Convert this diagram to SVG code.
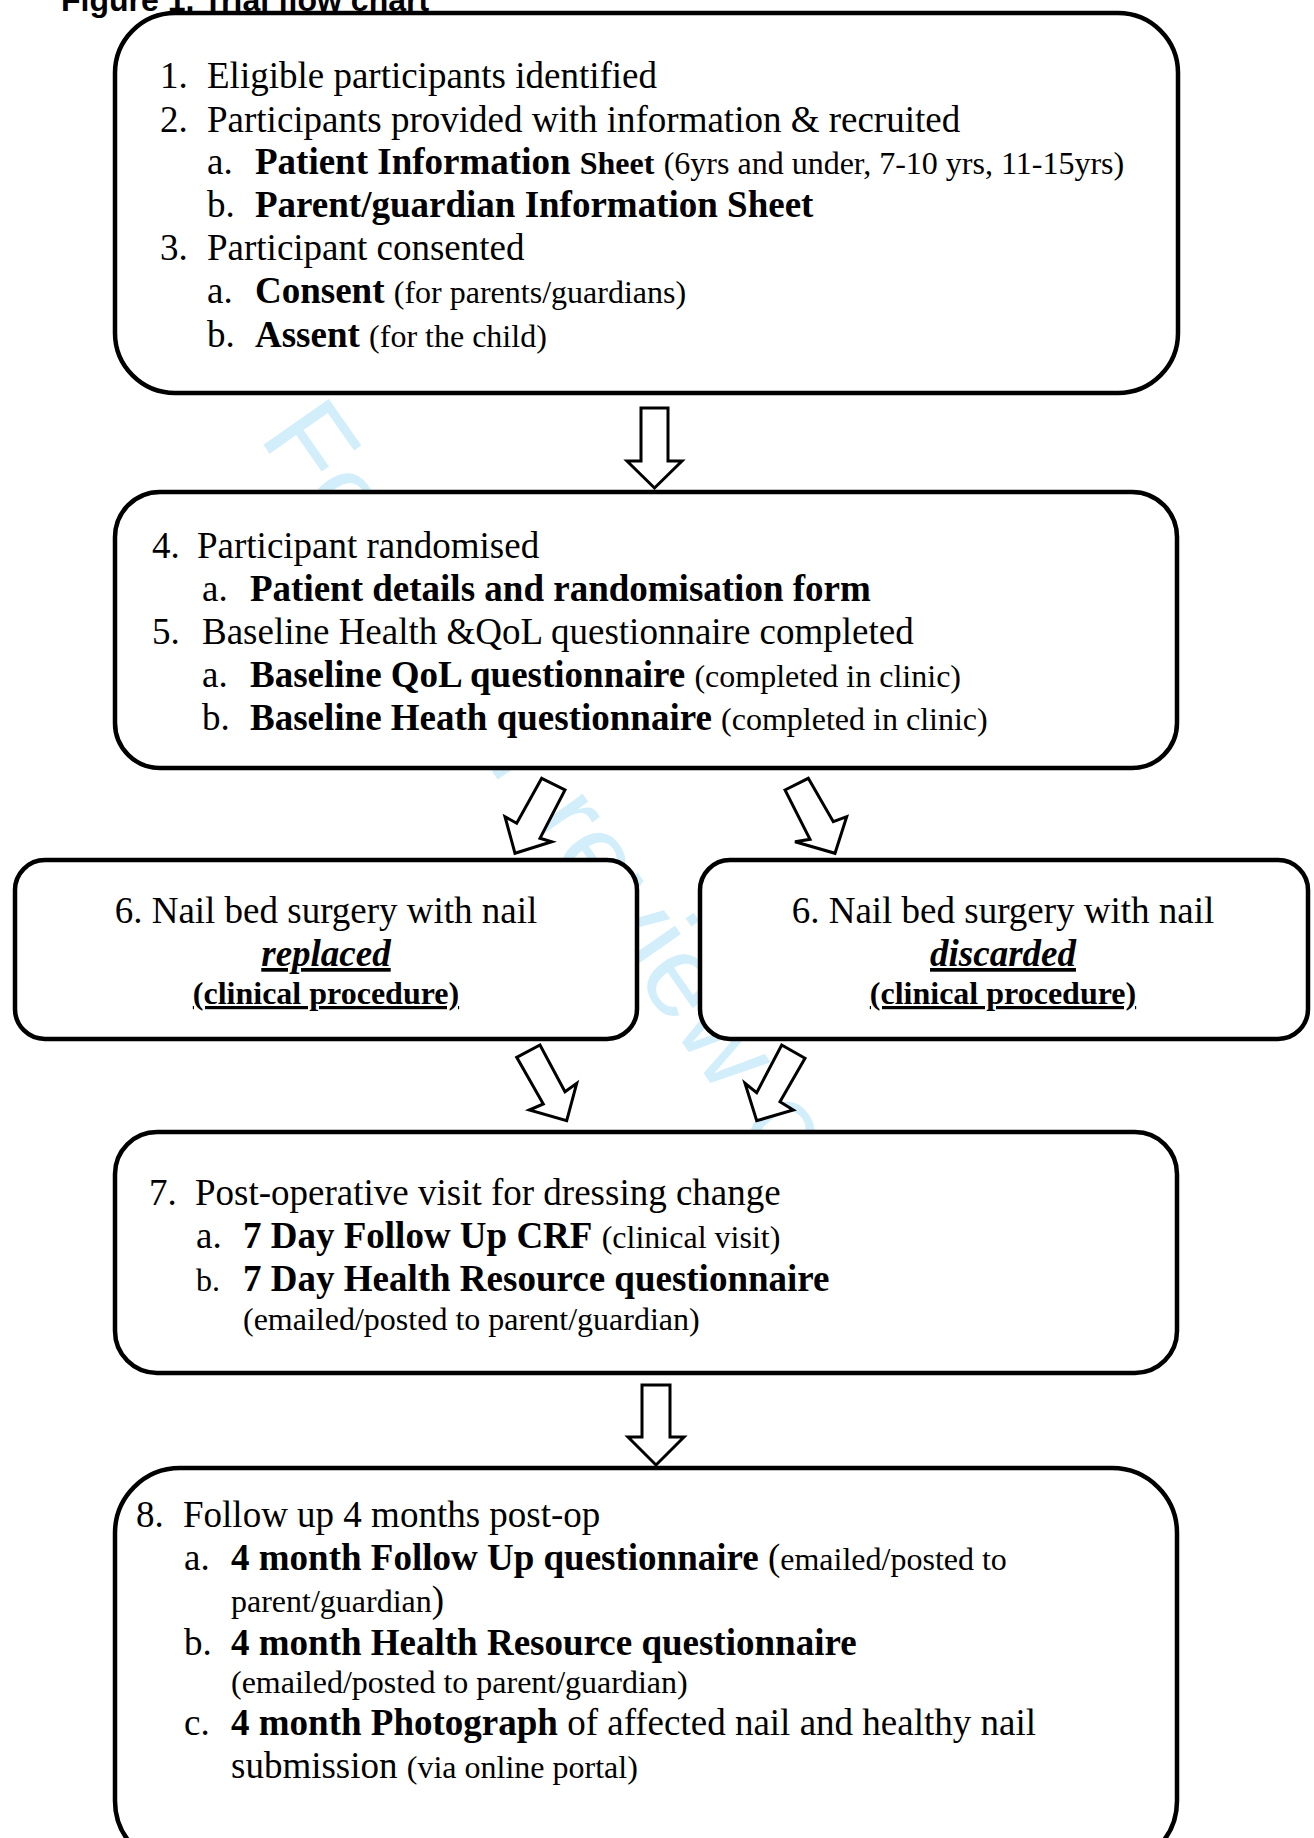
<svg xmlns="http://www.w3.org/2000/svg" width="1314" height="1838" viewBox="0 0 1314 1838">
<style>
.box{fill:#fff;stroke:#000;stroke-width:4.5}
.arr{fill:#fff;stroke:#000;stroke-width:3;stroke-linejoin:miter}
text{font-family:"Liberation Serif","Times New Roman",serif;font-size:37px;fill:#000}
.b{font-weight:bold}
.s{font-size:32px}
.bi{font-weight:bold;font-style:italic}
.u{text-decoration:underline}
.wm{font-family:"Liberation Sans",Arial,sans-serif;font-size:116px;fill:#d3eefb}
.title{font-family:"Liberation Sans",Arial,sans-serif;font-size:32px;font-weight:bold}
</style>
<rect width="1314" height="1838" fill="#fff"/>
<text class="wm" transform="translate(258,437) rotate(55)">For peer review only</text>
<text class="title" x="61" y="11">Figure 1. Trial flow chart</text>

<g id="connectors">
<polygon class="arr" points="641,408 668,408 668,461 682,461 654.5,488 627,461 641,461"/>
<polygon class="arr" points="541.7,778.3 565,790 540,838.3 551.7,841.7 515,853.3 505,816.7 516.7,823.3"/>
<polygon class="arr" points="785,790 808.3,778.3 833.3,821.7 846.7,816.7 835,853.3 795,841.7 810,839.3"/>
<polygon class="arr" points="516.7,1057.3 540,1045 565,1091.7 576.7,1083.3 566.7,1120.7 529.3,1110 543.3,1104"/>
<polygon class="arr" points="781.7,1045 805,1058.3 780,1101.7 793.3,1110 756.7,1120.7 745,1083.3 756.7,1092.7"/>
<polygon class="arr" points="642,1385 670,1385 670,1437 684,1437 656,1465 628,1437 642,1437"/>
</g>

<g id="node1">
<rect class="box" x="115" y="13" width="1063" height="380" rx="60"/>
<text x="160" y="88">1.</text><text x="207" y="88">Eligible participants identified</text>
<text x="160" y="131.5">2.</text><text x="207" y="131.5">Participants provided with information &amp; recruited</text>
<text x="207" y="174">a.</text><text x="255" y="174"><tspan class="b">Patient Information</tspan> <tspan class="b s">Sheet</tspan> <tspan class="s">(6yrs and under, 7-10 yrs, 11-15yrs)</tspan></text>
<text x="207" y="217">b.</text><text x="255" y="217" class="b">Parent/guardian Information Sheet</text>
<text x="160" y="260">3.</text><text x="207" y="260">Participant consented</text>
<text x="207" y="303">a.</text><text x="255" y="303"><tspan class="b">Consent</tspan> <tspan class="s">(for parents/guardians)</tspan></text>
<text x="207" y="346.5">b.</text><text x="255" y="346.5"><tspan class="b">Assent</tspan> <tspan class="s">(for the child)</tspan></text>
</g>

<g id="node2">
<rect class="box" x="115" y="492" width="1062" height="276" rx="45"/>
<text x="152" y="558">4.</text><text x="197" y="558">Participant randomised</text>
<text x="202" y="601">a.</text><text x="250" y="601" class="b">Patient details and randomisation form</text>
<text x="152" y="644">5.</text><text x="202" y="644">Baseline Health &amp;QoL questionnaire completed</text>
<text x="202" y="687">a.</text><text x="250" y="687"><tspan class="b">Baseline QoL questionnaire</tspan> <tspan class="s">(completed in clinic)</tspan></text>
<text x="202" y="730">b.</text><text x="250" y="730"><tspan class="b">Baseline Heath questionnaire</tspan> <tspan class="s">(completed in clinic)</tspan></text>
</g>

<g id="node3a">
<rect class="box" x="15" y="860" width="622" height="179" rx="30"/>
<text x="326" y="923" text-anchor="middle">6. Nail bed surgery with nail</text>
<text x="326" y="966" text-anchor="middle" class="bi u">replaced</text>
<text x="326" y="1004" text-anchor="middle" class="b s u">(clinical procedure)</text>
</g>

<g id="node3b">
<rect class="box" x="700" y="860" width="608" height="179" rx="30"/>
<text x="1003" y="923" text-anchor="middle">6. Nail bed surgery with nail</text>
<text x="1003" y="966" text-anchor="middle" class="bi u">discarded</text>
<text x="1003" y="1004" text-anchor="middle" class="b s u">(clinical procedure)</text>
</g>

<g id="node4">
<rect class="box" x="115" y="1132" width="1062" height="241" rx="42"/>
<text x="149" y="1204.5">7.</text><text x="195" y="1204.5">Post-operative visit for dressing change</text>
<text x="196" y="1247.5">a.</text><text x="243" y="1247.5"><tspan class="b">7 Day Follow Up CRF</tspan> <tspan class="s">(clinical visit)</tspan></text>
<text x="196" y="1290.5" class="s">b.</text><text x="243" y="1290.5" class="b">7 Day Health Resource questionnaire</text>
<text x="243" y="1329.5" class="s">(emailed/posted to parent/guardian)</text>
</g>

<g id="node5">
<rect class="box" x="115" y="1468" width="1062" height="398" rx="65"/>
<text x="136" y="1526.5">8.</text><text x="183" y="1526.5">Follow up 4 months post-op</text>
<text x="184" y="1569.5">a.</text><text x="231" y="1569.5"><tspan class="b">4 month Follow Up questionnaire</tspan> (<tspan class="s">emailed/posted to</tspan></text>
<text x="231" y="1611.5"><tspan class="s">parent/guardian</tspan>)</text>
<text x="184" y="1655">b.</text><text x="231" y="1655" class="b">4 month Health Resource questionnaire</text>
<text x="231" y="1692.5" class="s">(emailed/posted to parent/guardian)</text>
<text x="184" y="1735">c.</text><text x="231" y="1735"><tspan class="b">4 month Photograph</tspan> of affected nail and healthy nail</text>
<text x="231" y="1777.5">submission <tspan class="s">(via online portal)</tspan></text>
</g>
</svg>
